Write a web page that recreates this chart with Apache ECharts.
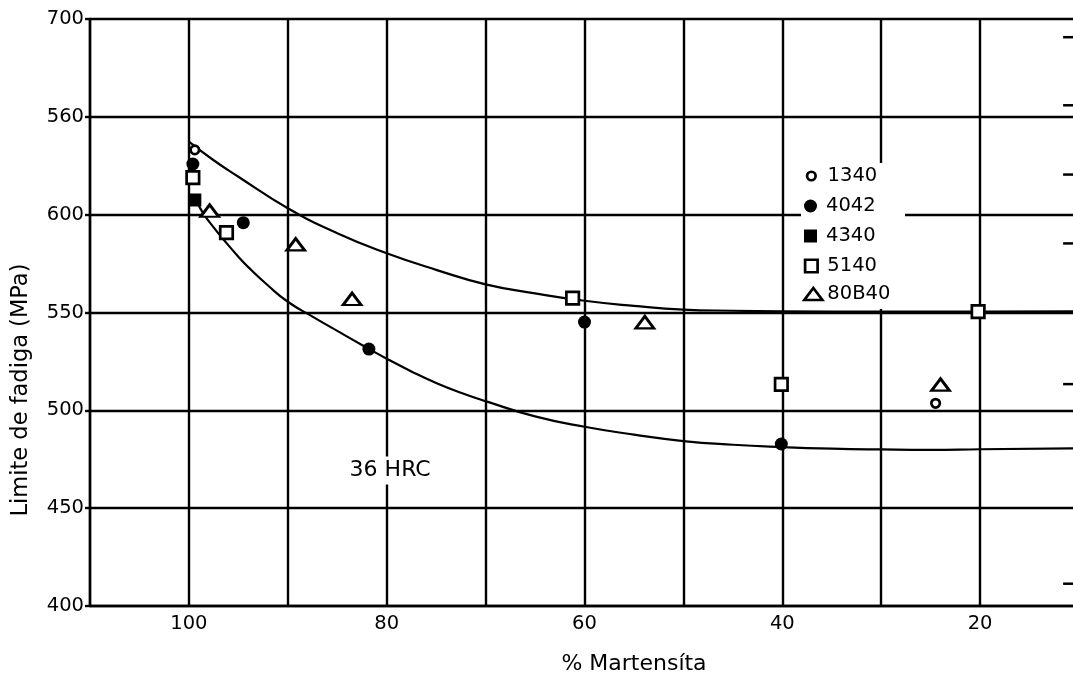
<!DOCTYPE html>
<html><head><meta charset="utf-8">
<script src="https://cdn.jsdelivr.net/npm/echarts/dist/echarts.min.js"></script>
<style>html,body{margin:0;padding:0;background:#fff}#c{width:1073px;height:674px}</style>
</head><body><div id="c"></div><script>
// ---- data ----
const xTickLabels = [100, 80, 60, 40, 20];
const yTickValues = [400, 450, 500, 550, 600, 650, 700];
const yTickLabels = ['400', '450', '500', '550', '600', '560', '700'];

const s1340 = [[99.4, 633.1], [24.5, 503.6]];
const s4042 = [[99.6, 625.9], [94.5, 595.9], [81.8, 531.3], [60.0, 545.1], [40.1, 482.8]];
const s4340 = [[99.4, 607.5]];
const s5140 = [[99.6, 618.9], [96.2, 590.8], [61.2, 557.3], [40.1, 513.3], [20.2, 550.4]];
const s80B40 = [[97.9, 602.0], [89.2, 584.8], [83.5, 556.9], [53.9, 545.0], [24.0, 513.1]];

const upperCurve = [[100, 637.3], [97.5, 627.8], [95, 619.4], [90, 603.3], [85, 590.5], [80, 580.3],
  [75, 571.8], [70, 564.4], [65, 559.8], [60, 556.0], [55, 553.4], [50, 551.5], [45, 550.9],
  [40, 550.6], [30, 550.4], [20, 550.5], [10, 550.6]];
const lowerCurve = [[99.2, 606.6], [98.5, 600.3], [97.5, 593.5], [96.5, 587.3], [95, 578.5], [94, 573.2],
  [92, 563.8], [90, 555.5], [87.5, 547.9], [85, 540.6], [82.5, 533.4], [80, 526.4], [77.5, 519.9],
  [75, 514.0], [72.5, 509.0], [70, 504.7], [65, 496.9], [60, 491.6], [55, 487.6], [50, 484.3],
  [45, 482.4], [40, 481.2], [35, 480.4], [30, 480.0], [25, 479.8], [20, 480.1], [10, 480.6]];

const annotationText = ['36 HRC'];
const annotationPos = [[79.65, 469.2]];
const edgeTicks = [[11, 690.7], [11, 655.9], [11, 620.5], [11, 585.3], [11, 513.4], [11, 411.4]];

const seriesNames = ['1340', '4042', '4340', '5140', '80B40'];

// ---- chart ----
const FONT = 'DejaVu Sans';
const hollow = { color: '#fff', borderColor: '#000', borderWidth: 2.7, opacity: 1 };
const solid = { color: '#000', borderWidth: 0, opacity: 1 };
const SQUARE = 'path://M0,0L10,0L10,10L0,10Z';

function legendItem(name, left, top, icon, w, h, style, keep, pad) {
  return {
    data: [name], left: left, top: top, orient: 'vertical', padding: 0,
    icon: icon, itemWidth: w, itemHeight: h, itemGap: 0, selectedMode: false,
    symbolKeepAspect: keep, itemStyle: style, z: 10,
    textStyle: { fontFamily: FONT, fontSize: 19.5, color: '#000', lineHeight: 20, padding: [0, 0, 0, pad] }
  };
}

const chart = echarts.init(document.getElementById('c'), null, { renderer: 'canvas' });
chart.setOption({
  animation: false,
  backgroundColor: '#fff',
  textStyle: { fontFamily: FONT },
  grid: { left: 90, top: 19, width: 989, height: 587, containLabel: false, outerBoundsMode: 'none' },
  graphic: [{ type: 'rect', left: 801, top: 163, shape: { width: 104, height: 146 }, style: { fill: '#fff' }, z: 1 }],
  legend: [
    legendItem(seriesNames[0], 805.75, 166, 'circle', 8.5, 8.5, hollow, true, 7),
    legendItem(seriesNames[1], 804, 196, 'circle', 13, 13, solid, true, 4),
    legendItem(seriesNames[2], 804, 226, SQUARE, 13, 13, solid, true, 4),
    legendItem(seriesNames[3], 803.75, 256, SQUARE, 12.5, 12.5, hollow, true, 4.75),
    legendItem(seriesNames[4], 803, 284, 'triangle', 18, 12, hollow, false, 0)
  ],
  xAxis: {
    type: 'value', inverse: true, min: 10, max: 110, interval: 10,
    name: '% Martensíta', nameLocation: 'middle', nameGap: 47,
    nameTextStyle: { fontFamily: FONT, fontSize: 22, color: '#000', padding: [0, 0, 0, 99] },
    axisLine: { show: true, lineStyle: { color: '#000', width: 2.4 } },
    axisTick: { show: false },
    axisLabel: { color: '#000', fontFamily: FONT, fontSize: 19.5, margin: 8,
      formatter: v => xTickLabels.indexOf(v) >= 0 ? String(v) : '' },
    splitLine: { show: true, lineStyle: { color: '#000', width: 2.4 } }
  },
  yAxis: {
    type: 'value', min: 400, max: 700, interval: 50,
    name: 'Limite de fadiga (MPa)', nameLocation: 'middle', nameGap: 57,
    nameTextStyle: { fontFamily: FONT, fontSize: 22.5, color: '#000', padding: [0, 155, 0, 0] },
    axisLine: { show: true, lineStyle: { color: '#000', width: 2.4 } },
    axisTick: { show: true, length: 5, lineStyle: { color: '#000', width: 2.4 } },
    axisLabel: { color: '#000', fontFamily: FONT, fontSize: 19.5, margin: 6,
      formatter: v => { const i = yTickValues.indexOf(v); return i >= 0 ? yTickLabels[i] : ''; } },
    splitLine: { show: true, lineStyle: { color: '#000', width: 2.4 } }
  },
  series: [
    { type: 'line', data: upperCurve, symbol: 'none', smooth: 0.5, lineStyle: { color: '#000', width: 2.2 }, silent: true },
    { type: 'line', data: lowerCurve, symbol: 'none', smooth: 0.5, lineStyle: { color: '#000', width: 2.2 }, silent: true },
    { type: 'scatter', name: 'edge', data: edgeTicks, symbol: 'rect', symbolSize: [12, 2.5], itemStyle: solid, silent: true },
    { type: 'scatter', name: 'hrc', data: annotationPos, symbolSize: 0, silent: true, itemStyle: { opacity: 1 },
      label: { show: true, position: 'inside', formatter: p => annotationText[p.dataIndex],
        fontFamily: FONT, fontSize: 22, color: '#000', backgroundColor: '#fff', padding: [3, 8, 3, 8] } },
    { type: 'scatter', name: seriesNames[0], data: s1340, symbol: 'circle', symbolSize: 8.5, itemStyle: hollow, z: 5 },
    { type: 'scatter', name: seriesNames[1], data: s4042, symbol: 'circle', symbolSize: 13, itemStyle: solid, z: 5 },
    { type: 'scatter', name: seriesNames[2], data: s4340, symbol: 'rect', symbolSize: 13, itemStyle: solid, z: 5 },
    { type: 'scatter', name: seriesNames[3], data: s5140, symbol: 'rect', symbolSize: 12.5, itemStyle: hollow, z: 5 },
    { type: 'scatter', name: seriesNames[4], data: s80B40, symbol: 'triangle', symbolSize: [18, 12], itemStyle: hollow, z: 5 }
  ]
});
</script></body></html>
